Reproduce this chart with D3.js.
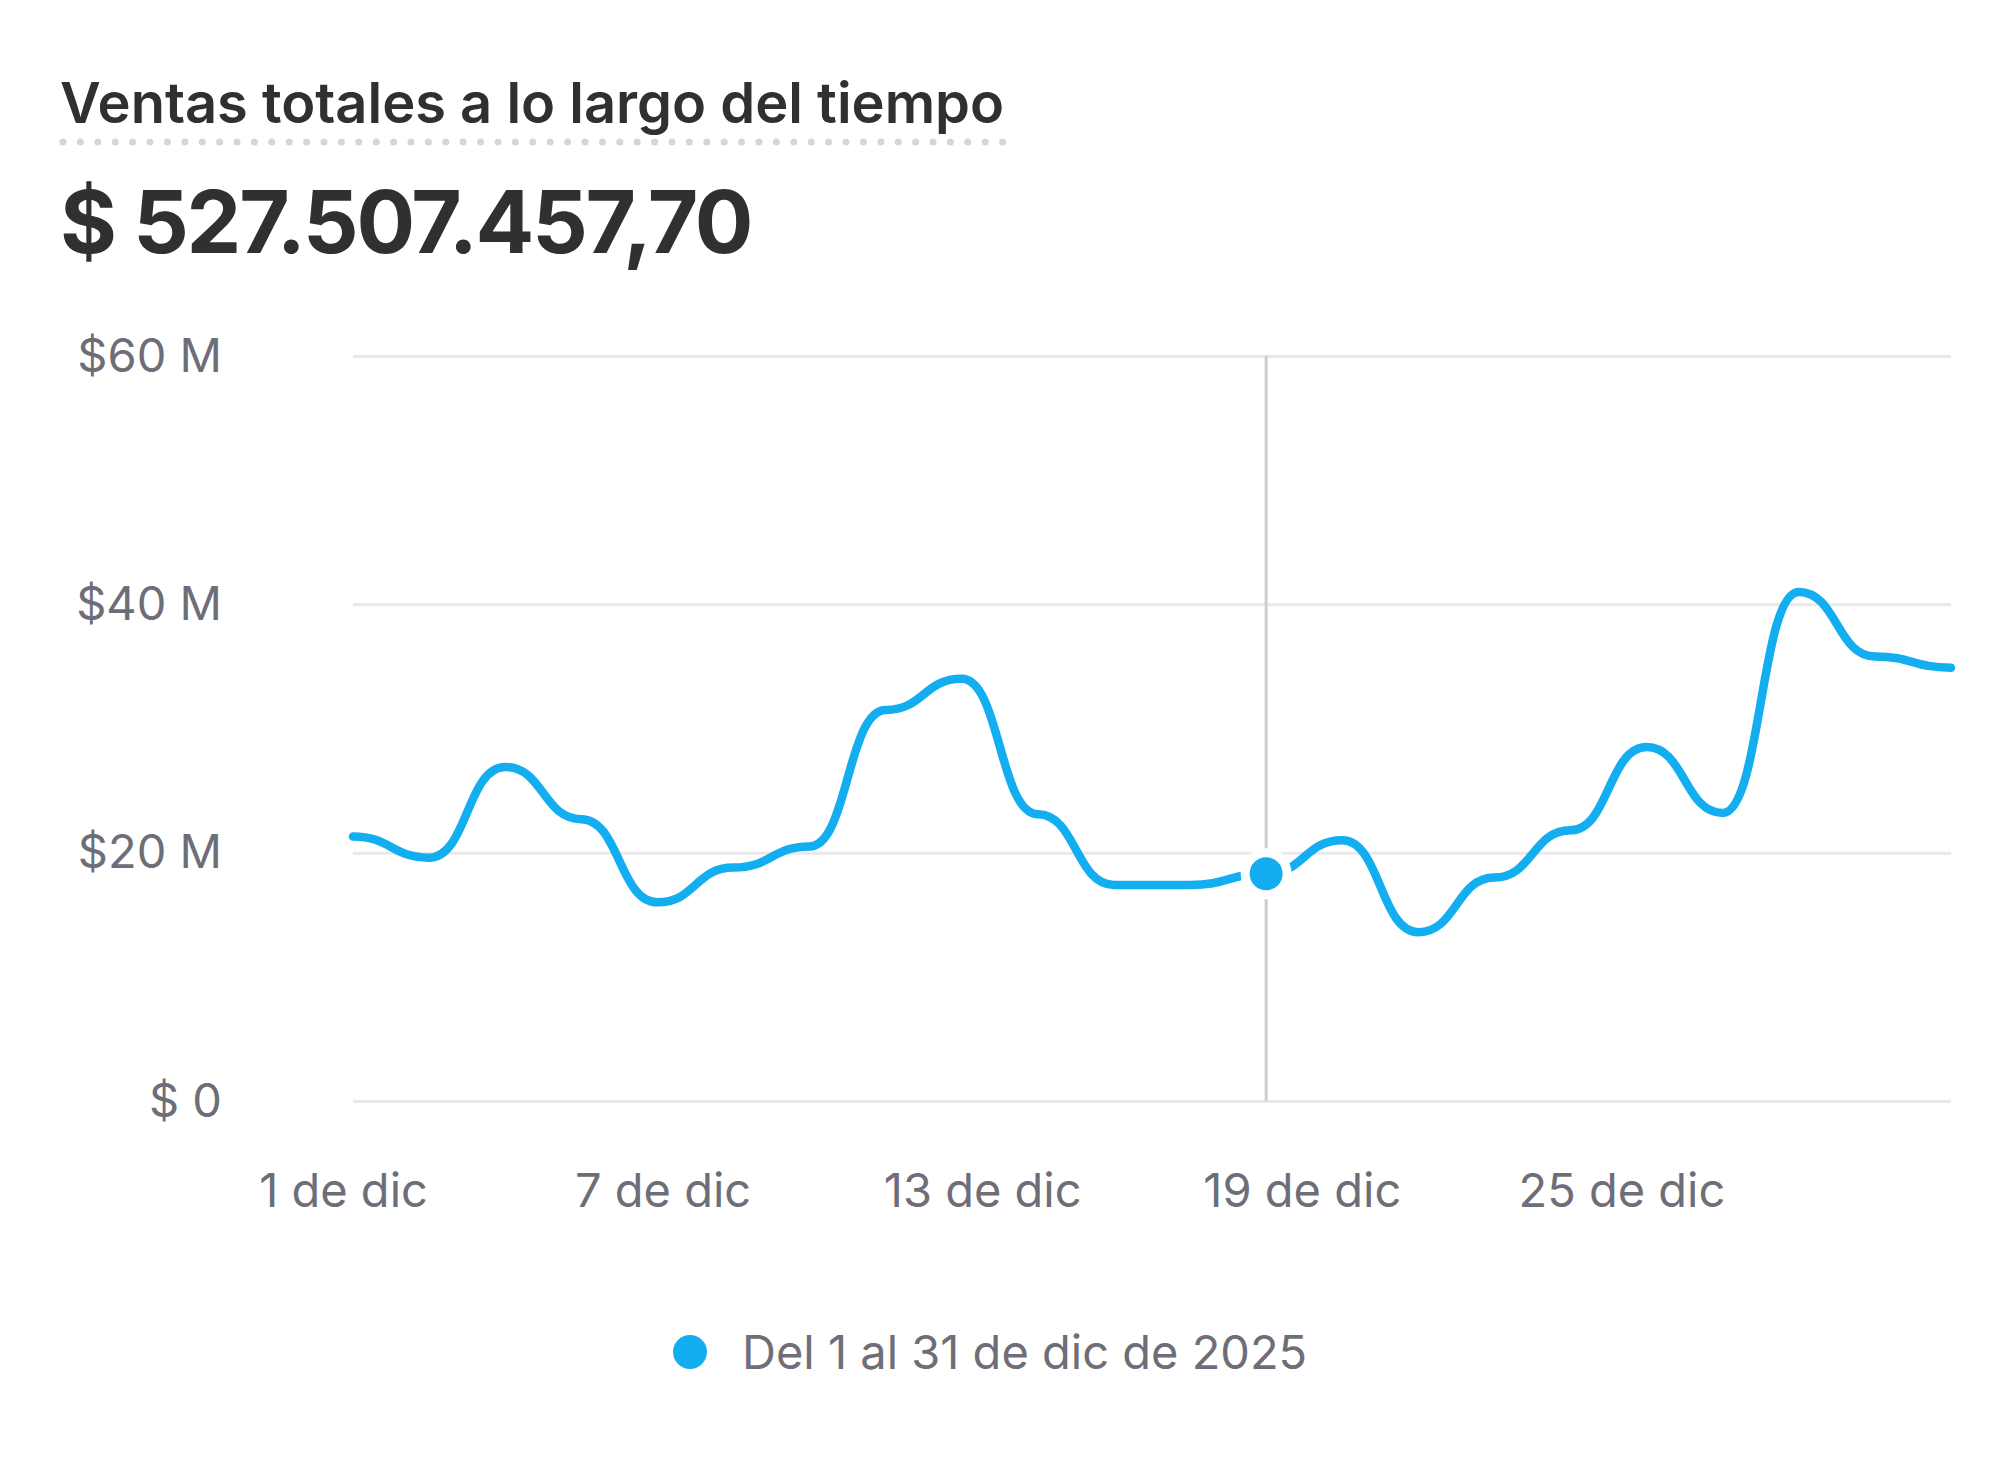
<!DOCTYPE html>
<html>
<head>
<meta charset="utf-8">
<script src="https://cdn.jsdelivr.net/npm/d3@7"></script>
<style>
  body { margin: 0; background: #fff; font-family: Inter, 'Noto Sans', sans-serif; }
  #chart { width: 2014px; height: 1460px; }
  .y-axis .tick line { stroke: #e9e9e9; stroke-width: 3; }
  .tick text { fill: #6e6e78; font-size: 47px; font-family: Inter, sans-serif; }
</style>
</head>
<body>
<div id="chart"></div>
<script>
'use strict';

// Data (values in millions of $)
var sales = [21.3, 19.6, 26.9, 22.7, 16.0, 18.8, 20.5, 31.5, 34.0, 23.1, 17.4,
             17.4, 18.3, 21.0, 13.6, 18.0, 21.8, 28.5, 23.2, 41.0, 35.8, 34.9];
var periodStart = '2025-12-01';
var periodEnd = '2025-12-31';
var xTickDates = ['2025-12-01', '2025-12-07', '2025-12-13', '2025-12-19', '2025-12-25'];
var xTickLabels = ['1 de dic', '7 de dic', '13 de dic', '19 de dic', '25 de dic'];
var yTicks = [0, 20, 40, 60];
var yTickLabels = ['$ 0', '$20 M', '$40 M', '$60 M'];
var title = 'Ventas totales a lo largo del tiempo';
var total = '$ 527.507.457,70';
var legendLabel = 'Del 1 al 31 de dic de 2025';
var activeIndex = 12;

var lineColor = '#12aef0';
var parseDate = d3.timeParse('%Y-%m-%d');

// Chart dimensions
var W = 2014, H = 1460;
var margin = {top: 356, right: 63, bottom: 359, left: 353};
var width = W - margin.left - margin.right;
var height = H - margin.top - margin.bottom;

var svg = d3.select('#chart')
  .append('svg')
  .attr('width', W)
  .attr('height', H);

svg.append('rect').attr('width', W).attr('height', H).attr('fill', '#fff');

// Header
var titleText = svg.append('text')
  .attr('x', 60)
  .attr('y', 123)
  .attr('fill', '#303030')
  .attr('font-size', 56)
  .attr('font-weight', 600)
  .text(title);

var titleWidth = titleText.node().getComputedTextLength();

// dotted underline, runs the full width of the title
svg.append('line')
  .attr('x1', 63)
  .attr('x2', 60 + titleWidth + 4)
  .attr('y1', 142)
  .attr('y2', 142)
  .attr('stroke', '#d6d6d6')
  .attr('stroke-width', 7)
  .attr('stroke-linecap', 'round')
  .attr('stroke-dasharray', '0 17.4');

svg.append('text')
  .attr('x', 60)
  .attr('y', 253)
  .attr('fill', '#303030')
  .attr('font-size', 87)
  .attr('font-weight', 700)
  .attr('letter-spacing', -2.2)
  .text(total);

var g = svg.append('g')
  .attr('transform', 'translate(' + margin.left + ',' + margin.top + ')');

// Scales
var xIndex = d3.scaleLinear()
  .domain([0, sales.length - 1])
  .range([0, width]);

var xTime = d3.scaleTime()
  .domain([parseDate(periodStart), parseDate(periodEnd)])
  .range([0, width]);

var y = d3.scaleLinear()
  .domain([0, 60])
  .range([height, 0]);

// Axes
g.append('g')
  .attr('class', 'y-axis')
  .call(d3.axisLeft(y)
    .tickValues(yTicks)
    .tickSize(-width)
    .tickPadding(131)
    .tickFormat(function(d, i) { return yTickLabels[i]; }))
  .call(function(a) { a.select('.domain').remove(); })
  .selectAll('text')
  .attr('font-size', null)
  .attr('font-family', null);

g.append('g')
  .attr('class', 'x-axis')
  .attr('transform', 'translate(-10,' + height + ')')
  .call(d3.axisBottom(xTime)
    .tickValues(xTickDates.map(parseDate))
    .tickSize(0)
    .tickPadding(73)
    .tickFormat(function(d, i) { return xTickLabels[i]; }))
  .call(function(a) { a.select('.domain').remove(); })
  .selectAll('text')
  .attr('font-size', null)
  .attr('font-family', null);

// Hover crosshair
g.append('line')
  .attr('x1', xIndex(activeIndex))
  .attr('x2', xIndex(activeIndex))
  .attr('y1', 0)
  .attr('y2', height)
  .attr('stroke', '#cdcdcd')
  .attr('stroke-width', 3);

// Line
var line = d3.line()
  .x(function(d, i) { return xIndex(i); })
  .y(function(d) { return y(d); })
  .curve(d3.curveBumpX);

g.append('path')
  .datum(sales)
  .attr('fill', 'none')
  .attr('stroke', lineColor)
  .attr('stroke-width', 8.5)
  .attr('stroke-linecap', 'round')
  .attr('stroke-linejoin', 'round')
  .attr('d', line);

g.append('circle')
  .attr('cx', xIndex(activeIndex))
  .attr('cy', y(sales[activeIndex]))
  .attr('r', 21)
  .attr('fill', lineColor)
  .attr('stroke', '#fff')
  .attr('stroke-width', 9);

// Legend
svg.append('circle')
  .attr('cx', 690)
  .attr('cy', 1352)
  .attr('r', 17)
  .attr('fill', lineColor);

svg.append('text')
  .attr('x', 742)
  .attr('y', 1369)
  .attr('fill', '#6e6e78')
  .attr('font-size', 47)
  .text(legendLabel);
</script>
</body>
</html>
